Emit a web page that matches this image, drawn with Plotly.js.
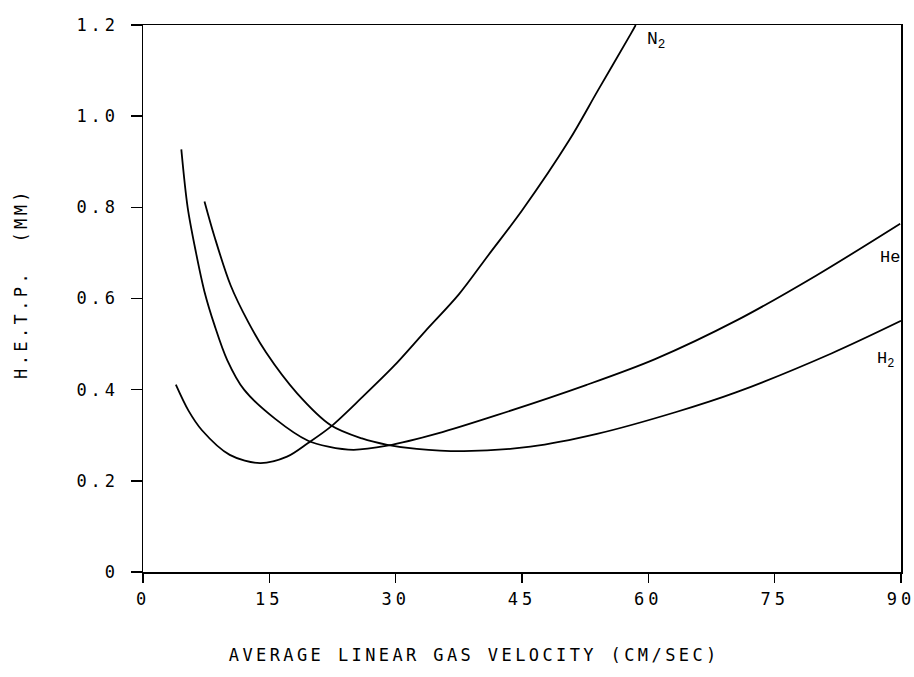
<!DOCTYPE html>
<html>
<head>
<meta charset="utf-8">
<script src="https://cdn.plot.ly/plotly-3.0.1.min.js"></script>
<style>
  html, body { margin: 0; padding: 0; background: #fff; }
  #chart { width: 914px; height: 677px; }
  .xtick text, .ytick text { letter-spacing: 4px; }
  g.annotation[data-index="0"] text, g.annotation[data-index="1"] text { letter-spacing: 3.4px; }
</style>
</head>
<body>
<div id="chart"></div>
<script>
// Curve data (x: cm/sec, y: mm)
const n2X = [3.9, 5.4, 7.0, 10.3, 13.9, 17.1, 19.6, 22.3, 26, 29.8, 33.5, 37.5, 41, 45, 50.6, 54.0, 57.9, 58.5];
const n2Y = [0.411, 0.354, 0.311, 0.257, 0.239, 0.253, 0.283, 0.319, 0.383, 0.452, 0.528, 0.609, 0.695, 0.793, 0.947, 1.056, 1.18, 1.2];

const heX = [4.55, 5.3, 6.3, 7.3, 8.5, 10, 12, 15.7, 19.6, 22, 25, 29, 35, 42, 52.6, 60.8, 70.6, 79.9, 89.9];
const heY = [0.927, 0.80, 0.70, 0.615, 0.541, 0.465, 0.40, 0.336, 0.288, 0.275, 0.268, 0.277, 0.304, 0.344, 0.41, 0.467, 0.553, 0.65, 0.764];

const h2X = [7.3, 8.5, 10.4, 12.5, 14.6, 18.3, 22.3, 26, 29, 32.5, 38.1, 46, 53.9, 63.3, 70.4, 81.8, 90];
const h2Y = [0.813, 0.735, 0.629, 0.548, 0.482, 0.392, 0.322, 0.293, 0.279, 0.270, 0.265, 0.275, 0.303, 0.351, 0.394, 0.48, 0.551];

const xTickVals = [0, 15, 30, 45, 60, 75, 90];
const xTickText = ["0", "15", "30", "45", "60", "75", "90"];
const yTickVals = [0, 0.2, 0.4, 0.6, 0.8, 1.0, 1.2];
const yTickText = ["0", "0.2", "0.4", "0.6", "0.8", "1.0", "1.2"];

const xTitle = "AVERAGE LINEAR GAS VELOCITY (CM/SEC)";
const yTitle = "H.E.T.P.  (MM)";

const lineStyle = {color: "#000", width: 1.8, shape: "spline", smoothing: 0.9};
const traces = [
  {x: n2X, y: n2Y, mode: "lines", line: lineStyle, name: "N2", hoverinfo: "skip"},
  {x: heX, y: heY, mode: "lines", line: lineStyle, name: "He", hoverinfo: "skip"},
  {x: h2X, y: h2Y, mode: "lines", line: lineStyle, name: "H2", hoverinfo: "skip"}
];

const tickFont = {family: "DejaVu Sans Mono", size: 17, color: "#000"};
const layout = {
  width: 914, height: 677,
  margin: {l: 143, r: 13, t: 25, b: 105},
  paper_bgcolor: "#fff", plot_bgcolor: "#fff",
  showlegend: false,
  xaxis: {
    range: [0, 90], tickvals: xTickVals, ticktext: xTickText,
    showline: true, mirror: true, linecolor: "#000", linewidth: 1.5,
    ticks: "outside", ticklen: 9, tickwidth: 1.5, tickcolor: "#000",
    showgrid: false, zeroline: false, tickfont: tickFont, ticklabelstandoff: 2,
    ticklabeloverflow: "allow", fixedrange: true
  },
  yaxis: {
    range: [0, 1.2], tickvals: yTickVals, ticktext: yTickText,
    showline: true, mirror: true, linecolor: "#000", linewidth: 1.5,
    ticks: "outside", ticklen: 11, tickwidth: 1.5, tickcolor: "#000",
    showgrid: false, zeroline: false, tickfont: tickFont, ticklabelstandoff: 8,
    ticklabeloverflow: "allow", fixedrange: true
  },
  annotations: [
    {text: xTitle, xref: "paper", yref: "paper", x: 0.437, y: -0.152,
     xanchor: "center", yanchor: "middle", showarrow: false,
     font: {family: "DejaVu Sans Mono", size: 17, color: "#000"}},
    {text: yTitle, xref: "paper", yref: "paper", x: -0.161, y: 0.528, textangle: -90,
     xanchor: "center", yanchor: "middle", showarrow: false,
     font: {family: "DejaVu Sans Mono", size: 17, color: "#000"}},
    {text: "N<sub>2</sub>", xref: "x", yref: "y", x: 59.6, y: 1.165,
     xanchor: "left", yanchor: "middle", showarrow: false,
     font: {family: "Liberation Mono", size: 18, color: "#000"}},
    {text: "He", xref: "x", yref: "y", x: 87.3, y: 0.69,
     xanchor: "left", yanchor: "middle", showarrow: false,
     font: {family: "Liberation Mono", size: 17, color: "#000"}},
    {text: "H<sub>2</sub>", xref: "x", yref: "y", x: 86.9, y: 0.465,
     xanchor: "left", yanchor: "middle", showarrow: false,
     font: {family: "Liberation Mono", size: 17, color: "#000"}}
  ]
};

Plotly.newPlot("chart", traces, layout, {staticPlot: true, displayModeBar: false});
</script>
</body>
</html>
